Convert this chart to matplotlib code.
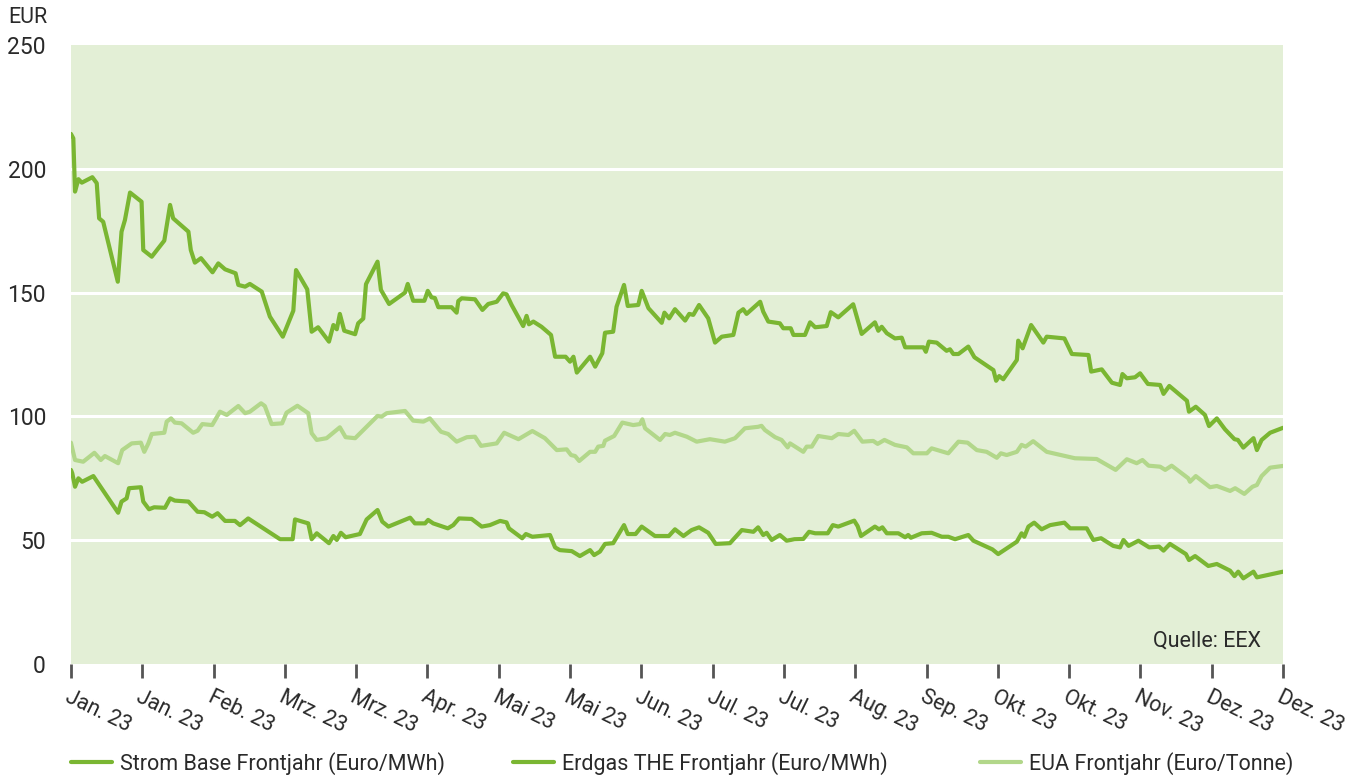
import matplotlib
matplotlib.use("Agg")
import matplotlib.pyplot as plt

plt.rcParams['font.family'] = ['Roboto', 'DejaVu Sans']

# days since 2 Jan 2023, EUR
strom_days = [0, 0.7, 1.2, 2.2, 3.2, 6.3, 7.6, 8.3, 9.5, 13.8, 14.9, 15.9, 17.4, 20.8, 21.3, 23.8,
              27.5, 29.2, 30.1, 34.6, 35.3, 36.5, 38.3, 41.7, 43.4, 45.4, 48.5, 49.3, 51.3, 52.7,
              56.2, 58.6, 62.4, 65.5, 66.3, 69.6, 70.9, 72.8, 76.0, 77.3, 78.3, 79.2, 80.5, 83.7,
              84.6, 86.1, 86.9, 90.3, 91.3, 93.7, 98.4, 99.2, 100.8, 104.1, 105.1, 106.2, 107.2,
              108.2, 112.1, 113.6, 114.1, 115.1, 119.0, 121.2, 122.9, 125.4, 127.3, 128.3, 129.8,
              133.2, 134.2, 134.9, 136.2, 138.6, 141.4, 142.6, 145.7, 147.0, 148.0, 149.0, 152.9,
              154.4, 156.5, 157.3, 159.7, 160.7, 162.9, 164.0, 167.1, 168.1, 170.1, 174.0, 174.8,
              176.2, 177.9, 180.9, 182.1, 183.3, 185.0, 187.7, 189.7, 191.7, 195.1, 196.6, 198.0,
              199.0, 203.0, 203.9, 205.4, 208.8, 209.8, 212.0, 212.8, 216.2, 217.7, 219.2, 222.6,
              223.8, 226.0, 230.4, 232.9, 236.8, 237.8, 238.8, 240.3, 242.7, 244.7, 245.7, 251.1,
              251.8, 252.7, 255.0, 257.9, 258.9, 259.9, 261.4, 264.3, 266.1, 271.7, 272.5, 273.4,
              274.6, 278.6, 279.0, 280.3, 282.8, 286.4, 287.4, 292.6, 294.8, 299.7, 300.5, 303.6,
              306.6, 309.0, 309.7, 311.0, 313.4, 314.9, 317.2, 320.8, 321.8, 323.5, 328.7, 329.3,
              331.3, 334.0, 335.2, 337.5, 339.9, 342.7, 343.7, 345.3, 348.3, 349.3, 350.7, 353.2, 357]
strom = [214.1, 212.3, 190.8, 195.8, 194.4, 196.6, 194.2, 180.0, 178.6, 154.4, 174.6, 179.3, 190.4,
         186.7, 167.2, 164.5, 171.0, 185.4, 180.0, 174.6, 167.2, 162.1, 163.9, 158.2, 161.8, 159.4,
         157.8, 153.1, 152.4, 153.5, 150.4, 140.3, 132.2, 142.7, 159.1, 151.3, 134.2, 136.0, 130.2,
         136.9, 135.2, 141.4, 134.6, 133.2, 137.6, 139.5, 153.4, 162.5, 151.1, 145.4, 150.0, 153.5,
         146.7, 146.7, 150.7, 148.1, 147.8, 144.1, 144.1, 141.9, 146.6, 147.7, 147.3, 143.0, 145.4,
         146.3, 149.7, 149.3, 145.0, 136.5, 140.6, 137.2, 138.3, 136.2, 132.9, 124.1, 124.1, 122.1,
         124.1, 117.7, 124.1, 120.1, 125.5, 133.8, 134.2, 144.3, 153.1, 144.6, 145.0, 150.7, 143.7,
         137.8, 141.9, 139.6, 143.3, 138.7, 141.4, 141.0, 145.0, 139.6, 129.8, 132.2, 132.9, 141.9,
         143.3, 141.4, 146.3, 142.3, 138.3, 137.6, 135.6, 135.6, 132.9, 132.9, 138.0, 136.0, 136.5,
         142.1, 140.0, 145.3, 133.3, 138.0, 134.6, 136.2, 133.6, 131.5, 131.8, 127.9, 127.9, 126.1,
         130.2, 129.8, 126.5, 127.1, 125.2, 125.2, 128.2, 123.9, 118.7, 114.4, 116.3, 115.0, 122.8,
         130.6, 127.5, 136.9, 129.8, 132.2, 131.5, 125.2, 124.8, 118.1, 119.0, 113.6, 112.7, 117.1,
         115.4, 115.8, 117.4, 113.1, 112.7, 109.1, 112.3, 106.3, 101.9, 103.9, 100.6, 96.1, 99.2,
         94.8, 90.8, 90.5, 87.4, 91.2, 86.4, 90.5, 93.4, 95.4]

gas_days = [0, 0.4, 1.2, 2.2, 3.3, 6.6, 13.9, 14.9, 16.4, 17.1, 20.6, 21.3, 23.0, 24.5, 27.7, 29.2,
            30.6, 34.6, 37.3, 39.3, 41.6, 43.2, 45.4, 48.3, 49.8, 52.2, 61.6, 65.3, 66.0, 69.9,
            70.9, 72.4, 76.0, 77.3, 78.3, 79.5, 80.9, 85.1, 87.1, 90.3, 91.7, 93.5, 99.9, 101.3,
            104.3, 105.2, 106.7, 111.0, 112.6, 114.3, 118.0, 121.0, 123.4, 126.4, 128.3, 129.0,
            132.9, 134.0, 135.9, 141.1, 142.6, 144.0, 147.5, 149.9, 152.9, 154.1, 155.8, 157.3,
            159.7, 161.7, 162.9, 164.0, 166.3, 168.1, 172.0, 176.1, 177.9, 180.4, 182.8, 185.0,
            187.7, 189.9, 194.1, 197.6, 201.0, 202.4, 203.9, 204.9, 206.4, 208.8, 210.8, 213.1,
            215.7, 217.4, 219.2, 222.9, 224.4, 226.0, 230.7, 231.7, 232.7, 236.8, 238.0, 239.0,
            240.3, 243.7, 245.7, 246.6, 247.4, 250.6, 253.5, 256.5, 258.4, 260.4, 264.3, 265.8,
            271.4, 273.1, 278.6, 280.0, 280.8, 282.0, 283.7, 285.9, 288.4, 292.6, 294.3, 299.2,
            301.1, 303.4, 307.0, 309.0, 310.0, 311.5, 314.4, 317.6, 320.5, 321.8, 323.7, 328.4,
            329.3, 331.1, 335.0, 337.5, 341.4, 342.7, 343.8, 345.3, 348.3, 349.3, 357]
gas = [78.4, 77.0, 71.6, 75.0, 73.6, 75.9, 61.1, 65.6, 66.9, 71.0, 71.4, 65.6, 62.5, 63.3, 63.1,
       66.9, 66.0, 65.6, 61.5, 61.3, 59.5, 60.9, 57.8, 57.8, 56.1, 58.8, 50.4, 50.4, 58.4, 56.8,
       50.4, 52.8, 48.8, 51.7, 50.1, 53.0, 51.2, 52.5, 58.4, 62.2, 57.5, 55.5, 59.1, 56.8, 56.8,
       58.2, 56.8, 54.8, 56.1, 58.8, 58.6, 55.5, 56.1, 57.8, 57.2, 54.8, 50.8, 52.5, 51.4, 52.1,
       47.1, 46.0, 45.6, 43.6, 46.0, 44.0, 45.4, 48.5, 48.8, 53.4, 56.1, 52.5, 52.5, 55.5, 51.7,
       51.7, 54.4, 51.7, 54.1, 55.2, 53.0, 48.5, 48.8, 54.1, 53.4, 55.2, 52.1, 53.0, 50.1, 52.1,
       49.8, 50.4, 50.5, 53.4, 52.8, 52.8, 56.1, 55.5, 57.9, 55.7, 51.7, 55.5, 54.4, 55.2, 52.8,
       52.8, 51.2, 52.1, 51.0, 52.8, 53.0, 51.4, 51.4, 50.4, 52.1, 49.8, 46.3, 44.4, 49.4, 52.8,
       51.4, 55.5, 57.1, 54.4, 56.1, 57.1, 54.8, 54.8, 50.1, 50.8, 47.7, 47.1, 50.1, 47.7, 49.8,
       47.1, 47.4, 45.8, 48.5, 44.4, 42.0, 43.6, 39.6, 40.4, 37.7, 35.5, 37.3, 34.6, 37.3, 35.0, 37.3]

eua_days = [0, 1.2, 3.6, 6.9, 8.8, 10.0, 13.9, 15.1, 17.9, 20.6, 21.6, 22.8, 23.8, 27.5, 28.2, 29.5,
            30.6, 32.6, 36.0, 37.3, 38.7, 41.6, 43.9, 45.9, 49.3, 51.3, 52.7, 56.0, 57.1, 59.1,
            62.2, 63.5, 66.7, 69.9, 70.9, 72.4, 75.3, 79.2, 80.9, 83.7, 90.3, 91.5, 93.0, 98.4,
            100.8, 103.8, 105.7, 109.0, 111.1, 113.6, 116.6, 119.0, 120.8, 125.4, 127.6, 131.8,
            135.9, 139.6, 143.1, 146.0, 147.3, 148.5, 149.7, 152.9, 154.4, 155.3, 156.8, 157.3,
            160.0, 162.4, 165.6, 167.6, 168.3, 169.1, 173.5, 175.0, 176.4, 177.9, 181.4, 184.3,
            188.2, 192.6, 195.6, 198.5, 202.4, 203.4, 204.4, 207.4, 209.3, 211.1, 211.8, 215.7,
            216.7, 218.2, 220.1, 224.1, 226.0, 229.0, 230.7, 233.1, 236.3, 237.6, 239.6, 242.7,
            246.2, 248.1, 252.1, 253.5, 258.4, 261.4, 264.1, 266.8, 269.7, 272.7, 273.9, 275.6,
            278.6, 280.0, 281.2, 283.4, 287.4, 295.7, 302.1, 307.7, 311.0, 313.9, 315.6, 317.4,
            320.8, 322.3, 324.2, 329.1, 329.6, 331.3, 335.5, 337.5, 341.4, 342.9, 345.6, 348.0,
            349.3, 350.7, 353.2, 357]
eua = [89.4, 82.4, 81.7, 85.3, 82.4, 84.0, 81.1, 86.4, 89.1, 89.4, 85.7, 89.1, 92.9, 93.4, 97.9,
       99.2, 97.5, 97.2, 93.4, 94.2, 96.9, 96.5, 101.9, 100.6, 104.2, 101.3, 101.9, 105.3, 104.2,
       96.9, 97.2, 101.5, 104.3, 101.3, 93.2, 90.5, 91.2, 95.6, 91.6, 91.2, 100.2, 99.9, 101.3,
       102.2, 98.3, 97.9, 99.2, 93.8, 92.9, 89.8, 91.6, 91.8, 88.1, 89.1, 93.4, 90.8, 94.1, 91.2,
       86.4, 86.7, 84.4, 84.0, 82.0, 85.7, 85.7, 87.8, 88.1, 90.2, 92.1, 97.5, 96.5, 96.9, 98.8,
       95.2, 90.5, 92.9, 92.5, 93.4, 91.8, 89.8, 90.8, 89.8, 91.2, 95.2, 95.8, 96.2, 94.5, 91.6,
       90.5, 87.5, 89.1, 85.7, 87.8, 87.8, 92.1, 91.2, 92.9, 92.5, 94.2, 89.8, 90.1, 88.9, 90.5,
       88.5, 87.5, 85.1, 85.1, 87.1, 85.1, 89.8, 89.4, 86.4, 85.7, 83.3, 85.1, 84.4, 85.7, 88.5,
       87.8, 90.0, 85.7, 83.1, 82.8, 78.4, 82.7, 81.1, 82.4, 80.1, 79.7, 78.4, 80.1, 75.0, 73.6,
       75.9, 71.4, 71.9, 69.9, 71.0, 68.7, 71.6, 72.3, 75.9, 79.3, 80.0]

tick_labels = ['Jan. 23', 'Jan. 23', 'Feb. 23', 'Mrz. 23', 'Mrz. 23', 'Apr. 23', 'Mai 23', 'Mai 23',
               'Jun. 23', 'Jul. 23', 'Jul. 23', 'Aug. 23', 'Sep. 23', 'Okt. 23', 'Okt. 23',
               'Nov. 23', 'Dez. 23', 'Dez. 23']
tick_days = [21 * i for i in range(len(tick_labels))]

dark = '#7ab632'
light = '#b2d78a'
txt = '#2a2a2a'
fs = 15.5
fw = 'normal'

fig = plt.figure(figsize=(13.59, 7.77), dpi=100)
ax = fig.add_axes([0.0522, 0.1454, 0.8919, 0.7967])
ax.set_facecolor('#e3efd6')

style = dict(lw=3.0, solid_capstyle='round', solid_joinstyle='round')
ax.plot(strom_days, strom, color=dark, label='Strom Base Frontjahr (Euro/MWh)', zorder=3, **style)
ax.plot(gas_days, gas, color=dark, label='Erdgas THE Frontjahr (Euro/MWh)', zorder=3, **style)
ax.plot(eua_days, eua, color=light, label='EUA Frontjahr (Euro/Tonne)', zorder=2, **style)

ax.set_xlim(0, 357)
ax.set_ylim(0, 250)
ax.set_yticks([0, 50, 100, 150, 200, 250])
for y in [50, 100, 150, 200]:
    ax.axhline(y, color='white', lw=2.2, zorder=1)

for s in ax.spines.values():
    s.set_visible(False)

ax.set_xticks(tick_days)
ax.set_xticklabels(tick_labels, rotation=-26, ha='left', va='top', rotation_mode='anchor',
                   fontsize=fs, color=txt, fontweight=fw)
ax.tick_params(axis='x', length=10, width=2, color='#555555', pad=6)
ax.tick_params(axis='y', length=0, pad=18, labelsize=fs + 1, labelcolor=txt)
for lab in ax.get_yticklabels():
    lab.set_fontweight(fw)

fig.text(0.006, 0.978, 'EUR', fontsize=fs, color=txt, fontweight=fw, va='center')
ax.text(0.982, 0.02, 'Quelle: EEX', transform=ax.transAxes, ha='right', va='bottom',
        fontsize=fs, color=txt, fontweight=fw)

# one legend per entry, placed like the original
handles, labels = ax.get_legend_handles_labels()
for h, l, x0 in zip(handles, labels, [0.0522, 0.3775, 0.7211]):
    leg = fig.legend([h], [l], loc='lower left', bbox_to_anchor=(x0 - 0.006, -0.008),
                     frameon=False, fontsize=fs, handlelength=1.9, handletextpad=0.35,
                     borderaxespad=0.0)
    for t in leg.get_texts():
        t.set_color(txt)
        t.set_fontweight(fw)

fig.savefig('out.png', dpi=100)
